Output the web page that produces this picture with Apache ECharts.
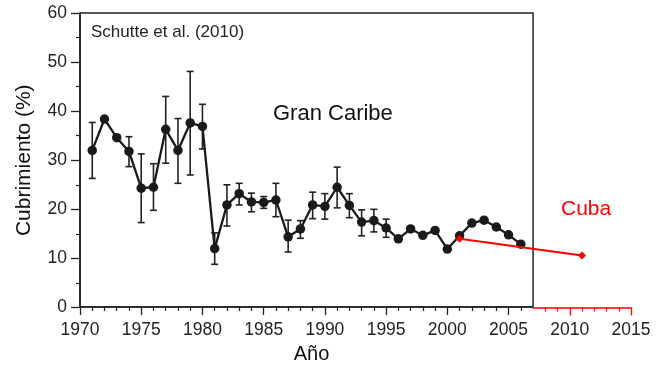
<!DOCTYPE html>
<html>
<head>
<meta charset="utf-8">
<script src="https://cdn.jsdelivr.net/npm/echarts@6/dist/echarts.min.js"></script>
<style>html,body{margin:0;padding:0;background:#fff;}#c{width:658px;height:369px;}</style>
</head>
<body>
<div id="c"></div>
<script>
// ---- data ----
var years = [1971,1972,1973,1974,1975,1976,1977,1978,1979,1980,1981,1982,1983,1984,1985,1986,1987,1988,1989,1990,1991,1992,1993,1994,1995,1996,1997,1998,1999,2000,2001,2002,2003,2004,2005,2006];
var cover = [32.0,38.4,34.6,31.8,24.3,24.5,36.3,32.0,37.6,36.9,12.0,20.9,23.2,21.5,21.4,21.9,14.4,16.0,20.9,20.6,24.5,20.8,17.4,17.7,16.2,14.0,16.0,14.7,15.7,11.9,14.6,17.2,17.8,16.4,14.8,12.9];
var errLow  = [26.3,null,null,28.7,17.3,19.8,29.4,25.3,27.0,32.3,8.8,16.6,20.9,19.5,20.2,18.5,11.3,14.1,18.1,18.0,20.3,18.3,14.6,15.4,14.3,null,null,null,null,null,null,null,null,null,null,null];
var errHigh = [37.7,null,null,34.8,31.3,29.3,43.0,38.5,48.1,41.4,15.2,25.0,25.3,23.3,22.6,25.3,17.8,17.7,23.5,23.2,28.6,23.2,19.9,20.0,18.0,null,null,null,null,null,null,null,null,null,null,null];
var cubaYears = [2001, 2011];
var cubaCover = [14.0, 10.6];
var xTickLabels = [1970,1975,1980,1985,1990,1995,2000,2005,2010,2015];
var yTickLabels = [0,10,20,30,40,50,60];
var xMin = 1970, xSplit = 2007, xMax = 2015;
var yMin = 0, yMax = 60;

// ---- layout ----
var gLeft = 80, gTop = 13, gWidth = 551, gHeight = 294.5;
var w1 = gWidth * (xSplit - xMin) / (xMax - xMin);
var w2 = gWidth - w1;
var FONT = "'Liberation Sans', Arial, sans-serif";
var DARK = '#222';

var blackMajor = xTickLabels.filter(function(v){return v < xSplit;});
var redMajor = xTickLabels.filter(function(v){return v > xSplit;});
var blackMinor = [], redMinor = [];
for (var y = xMin; y <= xMax; y++) {
  if (xTickLabels.indexOf(y) >= 0 || y === xSplit) continue;
  if (y < xSplit) blackMinor.push(y); else redMinor.push(y);
}

var mainData = years.map(function(y, i){ return [y, cover[i]]; });
var errData = [];
years.forEach(function(y, i){ if (errLow[i] != null) errData.push([y, errLow[i], errHigh[i]]); });
var cubaData = cubaYears.map(function(y, i){ return [y, cubaCover[i]]; });

function plain(v){ return String(v); }

var chart = echarts.init(document.getElementById('c'), null, {renderer: 'canvas'});
chart.setOption({
  animation: false,
  backgroundColor: '#fff',
  textStyle: {fontFamily: FONT},
  grid: [
    {left: gLeft, top: gTop, width: gWidth, height: gHeight},
    {left: gLeft, top: gTop, width: w1, height: gHeight, show: true, borderColor: DARK, borderWidth: 1.5, backgroundColor: 'transparent'},
    {left: gLeft + w1, top: gTop, width: w2, height: gHeight}
  ],
  xAxis: [
    {gridIndex: 0, type: 'value', position: 'bottom', min: xMin, max: xMax,
     axisLine: {show: false, onZero: false}, axisTick: {show: false}, splitLine: {show: false},
     axisLabel: {customValues: xTickLabels, formatter: plain, fontSize: 17.5, color: DARK, margin: 14, fontFamily: FONT}},
    {gridIndex: 1, type: 'value', position: 'bottom', min: xMin, max: xSplit,
     axisLine: {show: true, onZero: false, lineStyle: {color: DARK, width: 1.5}},
     axisTick: {show: true, inside: false, customValues: blackMajor, length: 8, lineStyle: {color: DARK, width: 1.3}},
     axisLabel: {show: false}, splitLine: {show: false},
     name: 'Año', nameLocation: 'middle', nameGap: 37,
     nameTextStyle: {fontSize: 20, color: '#111', fontFamily: FONT, padding: [0, 0, 0, 10]}},
    {gridIndex: 1, type: 'value', position: 'bottom', min: xMin, max: xSplit,
     axisLine: {show: false, onZero: false},
     axisTick: {show: true, inside: false, customValues: blackMinor, length: 4, lineStyle: {color: DARK, width: 1.2}},
     axisLabel: {show: false}, splitLine: {show: false}},
    {gridIndex: 2, type: 'value', position: 'bottom', min: xSplit, max: xMax,
     axisLine: {show: true, onZero: false, lineStyle: {color: '#ff0000', width: 1.5}},
     axisTick: {show: true, inside: false, customValues: redMajor, length: 8, lineStyle: {color: '#ff0000', width: 1.3}},
     axisLabel: {show: false}, splitLine: {show: false}},
    {gridIndex: 2, type: 'value', position: 'bottom', min: xSplit, max: xMax,
     axisLine: {show: false, onZero: false},
     axisTick: {show: true, inside: false, customValues: redMinor, length: 4, lineStyle: {color: '#ff0000', width: 1.2}},
     axisLabel: {show: false}, splitLine: {show: false}}
  ],
  yAxis: [
    {gridIndex: 0, type: 'value', position: 'left', min: yMin, max: yMax, interval: 10,
     axisLine: {show: true, onZero: false, lineStyle: {color: DARK, width: 1.5}},
     axisTick: {show: true, inside: false, length: 9, lineStyle: {color: DARK, width: 1.3}},
     minorTick: {show: true, splitNumber: 2, length: 4, lineStyle: {color: DARK, width: 1.2}},
     axisLabel: {fontSize: 17.5, color: DARK, margin: 13, fontFamily: FONT},
     splitLine: {show: false},
     name: 'Cubrimiento (%)', nameLocation: 'middle', nameGap: 45, nameRotate: 90,
     nameTextStyle: {fontSize: 21, color: '#111', fontFamily: FONT}},
    {gridIndex: 1, type: 'value', min: yMin, max: yMax, show: false},
    {gridIndex: 2, type: 'value', min: yMin, max: yMax, show: false}
  ],
  graphic: [
    {type: 'text', left: 91, top: 24, style: {text: 'Schutte et al. (2010)', fontSize: 17, fill: DARK, font: '17px ' + FONT}},
    {type: 'text', left: 273, top: 103, style: {text: 'Gran Caribe', fontSize: 22, fill: '#111', font: '22px ' + FONT}},
    {type: 'text', left: 561, top: 199, style: {text: 'Cuba', fontSize: 21, fill: '#ff0000', font: '21px ' + FONT}}
  ],
  series: [
    {type: 'custom', xAxisIndex: 0, yAxisIndex: 0, data: errData, z: 2,
     renderItem: function(params, api){
       var x = api.value(0);
       var lo = api.coord([x, api.value(1)]);
       var hi = api.coord([x, api.value(2)]);
       var cw = 3.5;
       var st = {stroke: '#222', lineWidth: 1.6};
       return {type: 'group', children: [
         {type: 'line', shape: {x1: lo[0], y1: lo[1], x2: hi[0], y2: hi[1]}, style: st},
         {type: 'line', shape: {x1: lo[0]-cw, y1: lo[1], x2: lo[0]+cw, y2: lo[1]}, style: st},
         {type: 'line', shape: {x1: hi[0]-cw, y1: hi[1], x2: hi[0]+cw, y2: hi[1]}, style: st}
       ]};
     }},
    {type: 'line', xAxisIndex: 0, yAxisIndex: 0, data: mainData, z: 3,
     symbol: 'circle', symbolSize: 9.5, showAllSymbol: true,
     lineStyle: {color: '#1a1a1a', width: 2.3}, itemStyle: {color: '#1a1a1a'}},
    {type: 'line', xAxisIndex: 0, yAxisIndex: 0, data: cubaData, z: 4,
     symbol: 'diamond', symbolSize: 8,
     lineStyle: {color: '#ff0000', width: 2}, itemStyle: {color: '#ff0000'}}
  ]
});
</script>
</body>
</html>
